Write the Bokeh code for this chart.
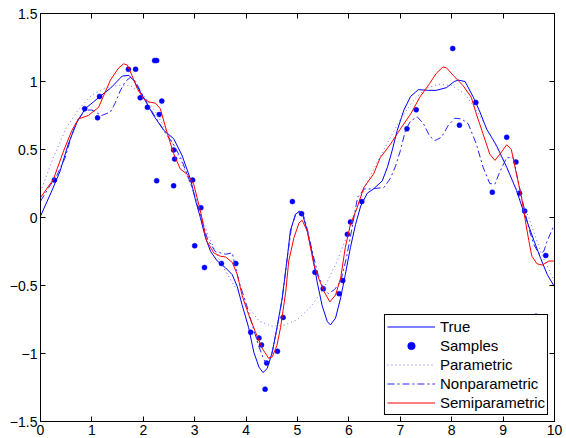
from bokeh.plotting import figure
from bokeh.models import FixedTicker, LinearAxis, Range1d, CustomLabelingPolicy
from bokeh.embed import file_html
from bokeh.resources import INLINE

# ---------------- data ----------------
true_x = [0, 0.22, 0.38, 0.54, 0.71, 0.87, 1.03, 1.19, 1.36, 1.59, 1.72, 1.81, 2.0, 2.2, 2.40,
          2.59, 2.75, 2.92, 3.02, 3.11, 3.21, 3.31, 3.44, 3.60, 3.73, 3.83, 3.92, 4.05, 4.15,
          4.25, 4.33, 4.41, 4.51, 4.60, 4.70, 4.80, 4.86, 4.96, 5.03, 5.09, 5.19, 5.29, 5.38,
          5.48, 5.58, 5.64, 5.74, 5.84, 5.93, 6.03, 6.13, 6.23, 6.36, 6.48, 6.65, 6.75, 6.84,
          6.94, 7.07, 7.2, 7.35, 7.55, 7.70, 7.90, 8.05, 8.13, 8.26, 8.42, 8.55, 8.68, 8.87,
          9.07, 9.26, 9.42, 9.60, 9.73, 9.86, 10]
true_y = [0.01, 0.196, 0.34, 0.54, 0.70, 0.80, 0.85, 0.90, 0.95, 1.04, 1.045, 1.01, 0.885, 0.75, 0.64,
          0.58, 0.46, 0.28, 0.12, 0.0, -0.15, -0.25, -0.32, -0.37, -0.42, -0.51, -0.64, -0.81, -0.99,
          -1.10, -1.14, -1.11, -0.99, -0.81, -0.60, -0.30, -0.10, 0.024, 0.043, 0.035, -0.10, -0.27, -0.47,
          -0.65, -0.765, -0.79, -0.74, -0.59, -0.42, -0.22, -0.05, 0.085, 0.18, 0.21, 0.27, 0.37, 0.49,
          0.64, 0.79, 0.89, 0.94, 0.935, 0.935, 0.955, 1.0, 1.01, 1.0, 0.885, 0.775, 0.65, 0.53,
          0.37, 0.20, 0.02, -0.17, -0.30, -0.42, -0.51]

sample_x = [0.27, 0.86, 1.11, 1.15, 1.71, 1.85, 1.94, 2.08, 2.22, 2.26, 2.26, 2.31, 2.36, 2.59,
            2.59, 2.61, 2.96, 3.12, 3.00, 3.19, 3.52, 3.80, 4.09, 4.25, 4.30, 4.40, 4.37, 4.61,
            4.72, 4.90, 5.08, 5.34, 5.50, 5.81, 5.88, 5.97, 6.03, 6.25, 7.13, 7.31, 8.02, 8.15,
            8.47, 8.79, 9.07, 9.25, 9.32, 9.42, 9.64, 9.83]
sample_y = [0.275, 0.80, 0.733, 0.89, 1.09, 1.09, 0.88, 0.81, 1.154, 1.154, 0.27, 0.757, 0.856, 0.233,
            0.497, 0.43, 0.275, 0.072, -0.208, -0.368, -0.338, -0.338, -0.844, -0.886, -0.937, -1.07, -1.262, -0.984,
            -0.735, 0.117, 0.028, -0.403, -0.523, -0.56, -0.464, -0.124, -0.033, 0.117, 0.652, 0.792, 1.243, 0.679,
            0.846, 0.186, 0.59, 0.408, 0.179, 0.048, -0.726, -0.279]

param_x = [0, 0.25, 0.5, 0.75, 1.0, 1.25, 1.5, 1.75, 2.0, 2.25, 2.5, 2.75, 3.0, 3.25, 3.5, 3.75,
           4.0, 4.25, 4.5, 4.75, 5.0, 5.25, 5.5, 5.75, 6.0, 6.25, 6.5, 6.75, 7.0, 7.25, 7.5, 7.75,
           8.0, 8.25, 8.5, 8.75, 9.0, 9.25, 9.5, 9.75, 10]
param_y = [0.19, 0.44, 0.66, 0.80, 0.90, 0.95, 0.97, 0.97, 0.90, 0.77, 0.60, 0.40, 0.17, -0.12, -0.33, -0.49,
           -0.64, -0.76, -0.80, -0.79, -0.75, -0.66, -0.53, -0.34, -0.10, 0.17, 0.37, 0.55, 0.72, 0.86, 0.95, 0.98,
           0.97, 0.91, 0.78, 0.61, 0.42, 0.22, 0.0, -0.27, -0.47]

nonpar_x = [0, 0.16, 0.32, 0.48, 0.61, 0.71, 0.87, 1.0, 1.19, 1.36, 1.45, 1.55, 1.65, 1.75, 1.85,
            2.0, 2.2, 2.4, 2.6, 2.75, 2.95, 3.1, 3.25, 3.4, 3.6, 3.73, 3.86, 3.99, 4.12, 4.25,
            4.35, 4.42, 4.5, 4.6, 4.7, 4.8, 4.88, 4.97, 5.05, 5.12, 5.2, 5.3, 5.4, 5.5, 5.6,
            5.72, 5.84, 5.95, 6.05, 6.17, 6.3, 6.42, 6.68, 6.81, 6.91, 7.0, 7.1, 7.2, 7.33, 7.45,
            7.57, 7.67, 7.80, 7.93, 8.06, 8.19, 8.32, 8.48, 8.61, 8.74, 8.84, 8.94, 9.07, 9.20,
            9.29, 9.39, 9.5, 9.6, 9.7, 9.79, 9.86, 10]
nonpar_y = [0.12, 0.22, 0.31, 0.44, 0.61, 0.71, 0.79, 0.79, 0.75, 0.775, 0.84, 0.93, 1.0, 1.03, 1.0,
            0.89, 0.76, 0.64, 0.53, 0.42, 0.22, 0.03, -0.16, -0.25, -0.27, -0.26, -0.47, -0.62, -0.79, -0.95,
            -1.05, -1.07, -1.0, -0.82, -0.6, -0.3, -0.08, 0.03, 0.05, 0.01, -0.1, -0.27, -0.42, -0.52, -0.56,
            -0.53, -0.47, -0.30, -0.1, 0.15, 0.21, 0.21, 0.22, 0.29, 0.38, 0.49, 0.64, 0.71, 0.74, 0.69,
            0.60, 0.565, 0.59, 0.675, 0.73, 0.725, 0.69, 0.54, 0.37, 0.25, 0.245, 0.34, 0.44, 0.44,
            0.27, 0.10, -0.08, -0.2, -0.27, -0.25, -0.17, -0.05]

semi_x = [0, 0.25, 0.45, 0.61, 0.74, 0.93, 1.13, 1.36, 1.52, 1.62, 1.69, 1.78, 1.88, 2.01, 2.11,
          2.24, 2.33, 2.47, 2.59, 2.72, 2.85, 2.98, 3.11, 3.23, 3.37, 3.50, 3.60, 3.73, 3.83, 3.92,
          4.05, 4.18, 4.31, 4.44, 4.51, 4.60, 4.67, 4.77, 4.83, 4.93, 5.03, 5.09, 5.19, 5.32, 5.41,
          5.51, 5.63, 5.74, 5.84, 5.93, 6.03, 6.16, 6.29, 6.48, 6.61, 6.81, 7.0, 7.2, 7.38, 7.57,
          7.70, 7.83, 7.90, 8.03, 8.22, 8.38, 8.48, 8.61, 8.74, 8.84, 8.94, 9.07, 9.16, 9.26, 9.36,
          9.44, 9.50, 9.56, 9.66, 9.76, 9.89, 10]
semi_y = [0.146, 0.28, 0.49, 0.64, 0.725, 0.75, 0.81, 1.01, 1.10, 1.13, 1.12, 1.045, 0.95, 0.87, 0.85,
          0.84, 0.80, 0.615, 0.47, 0.356, 0.32, 0.245, 0.05, -0.17, -0.26, -0.285, -0.29, -0.33, -0.42, -0.57,
          -0.715, -0.84, -0.96, -1.036, -1.024, -0.94, -0.81, -0.55, -0.32, -0.15, -0.04, -0.02, -0.10, -0.35, -0.445,
          -0.54, -0.62, -0.57, -0.445, -0.22, -0.05, 0.072, 0.22, 0.32, 0.44, 0.54, 0.65, 0.76, 0.885, 0.985,
          1.06, 1.107, 1.10, 1.045, 0.97, 0.885, 0.76, 0.615, 0.467, 0.42, 0.467, 0.535, 0.50, 0.32, 0.146,
          -0.04, -0.17, -0.285, -0.34, -0.35, -0.32, -0.32]

x_ticks = [0, 1, 2, 3, 4, 5, 6, 7, 8, 9, 10]
x_tick_labels = ["0", "1", "2", "3", "4", "5", "6", "7", "8", "9", "10"]
y_ticks = [-1.5, -1.0, -0.5, 0.0, 0.5, 1.0, 1.5]
y_tick_labels = ["\u22121.5", "\u22121", "\u22120.5", "0", "0.5", "1", "1.5"]

# ---------------- figure ----------------
FONT = "Liberation Sans"

p = figure(width=566, height=438, output_backend="svg", toolbar_location=None,
           x_range=Range1d(0, 10), y_range=Range1d(-1.5, 1.5),
           min_border_left=40, min_border_right=12, min_border_top=13, min_border_bottom=17)
p.background_fill_color = "white"
p.border_fill_color = "white"
p.outline_line_color = "black"
p.outline_line_width = 1
p.xgrid.visible = False
p.ygrid.visible = False


def style_axis(ax, ticks, labels, show_labels):
    ax.ticker = FixedTicker(ticks=ticks)
    ax.major_label_overrides = {t: l for t, l in zip(ticks, labels)}
    ax.axis_line_color = "black"
    ax.axis_line_width = 1
    ax.major_tick_line_color = "black"
    ax.major_tick_in = 5
    ax.major_tick_out = 0
    ax.minor_tick_line_color = None
    ax.major_label_text_font = FONT
    ax.major_label_text_color = "black"
    if show_labels:
        ax.major_label_text_font_size = "14px"
        ax.major_label_standoff = 3
    else:
        ax.major_label_text_font_size = "1px"
        ax.major_label_standoff = 0
        ax.major_label_policy = CustomLabelingPolicy(code="")


style_axis(p.xaxis[0], x_ticks, x_tick_labels, True)
style_axis(p.yaxis[0], y_ticks, y_tick_labels, True)

top_ax = LinearAxis()
right_ax = LinearAxis()
style_axis(top_ax, x_ticks, x_tick_labels, False)
style_axis(right_ax, y_ticks, y_tick_labels, False)
p.add_layout(top_ax, "above")
p.add_layout(right_ax, "right")

# ---------------- series ----------------
p.line(true_x, true_y, line_color="#0000ff", line_width=1, legend_label="True")
p.scatter(sample_x, sample_y, size=5, fill_color="#0000ff", line_color="#0000ff",
          line_width=0.5, legend_label="Samples")
p.line(param_x, param_y, line_color="#6f6fff", line_width=1, line_dash="1 3",
       legend_label="Parametric")
p.line(nonpar_x, nonpar_y, line_color="#2323ff", line_width=1, line_dash="7 3 2 3",
       legend_label="Nonparametric")
p.line(semi_x, semi_y, line_color="#ff0000", line_width=1, legend_label="Semiparametric")

# ---------------- legend ----------------
lg = p.legend[0]
lg.location = "bottom_right"
lg.margin = 6
lg.padding = 2
lg.spacing = 0
lg.glyph_width = 48
lg.glyph_height = 19
lg.label_height = 19
lg.label_standoff = 5
lg.label_text_font = FONT
lg.label_text_font_size = "15px"
lg.label_text_color = "black"
lg.border_line_color = "black"
lg.border_line_width = 1
lg.border_line_alpha = 1
lg.background_fill_color = "white"
lg.background_fill_alpha = 1

open("out.html", "w").write(file_html(p, INLINE))
